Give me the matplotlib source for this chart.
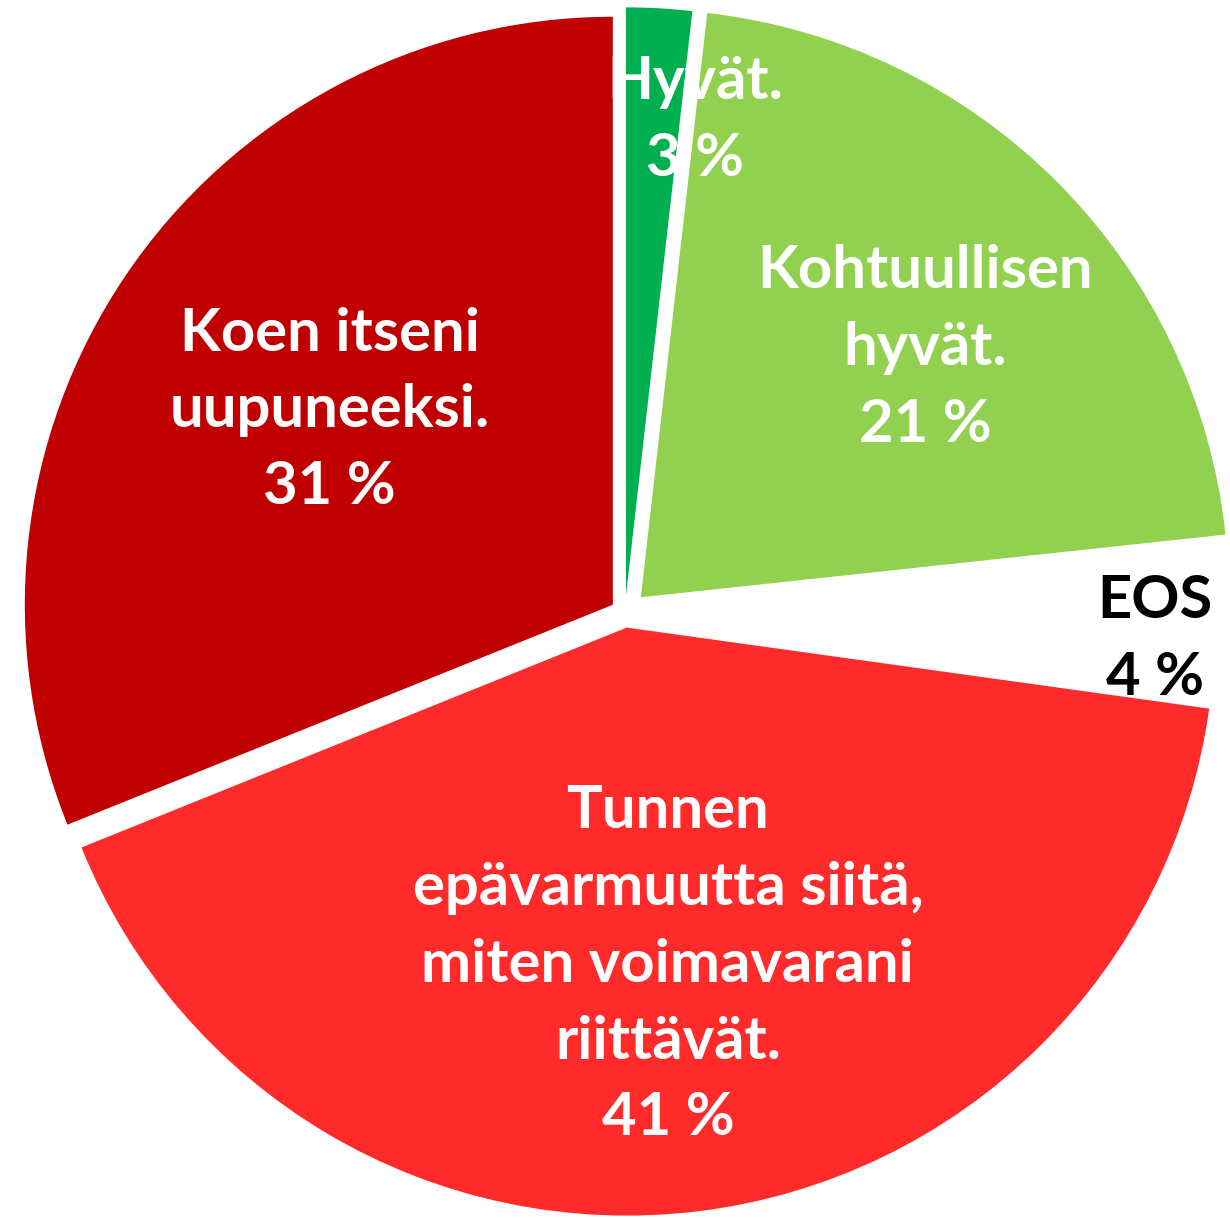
import matplotlib.pyplot as plt

# slices clockwise from 12 o'clock; shares
labels = ["Hyvät.", "Kohtuullisen\nhyvät.", "EOS", "Tunnen\nepävarmuutta siitä,\nmiten voimavarani\nriittävät.",
          "Koen itseni\nuupuneeksi."]
pct_text = ["3 %", "21 %", "4 %", "41 %", "31 %"]
shares = [1.8, 21.5, 3.9, 41.7, 31.1]
colors = ["#00B050", "#92D050", "#FFFFFF", "#FF2B2B", "#C00000"]
text_colors = ["white", "white", "black", "white", "white"]
explode = [0.03, 0.038, 0.03, 0.025, 0.025]
# label anchor positions (axes fraction)
label_pos = [(0.565, 0.901), (0.752, 0.714), (0.939, 0.475), (0.543, 0.208), (0.268, 0.663)]

plt.rcParams["font.family"] = ["Lato", "DejaVu Sans"]

fig = plt.figure(figsize=(12.3, 12.18), dpi=100)
ax = fig.add_axes([0, 0, 1, 1])
ax.axis("off")

wedges, _ = ax.pie(shares, colors=colors, startangle=90, counterclock=False,
                   explode=explode, radius=1.0,
                   wedgeprops=dict(linewidth=0))

for lab, pct, tc, pos in zip(labels, pct_text, text_colors, label_pos):
    ax.text(pos[0], pos[1], f"{lab}\n{pct}", transform=ax.transAxes,
            ha="center", va="center", color=tc, fontsize=43, fontweight="bold",
            linespacing=1.52)

ax.set_xlim(-1.0629, 1.0289)
ax.set_ylim(-1.0289, 1.0425)

fig.savefig("out.png", dpi=100)
